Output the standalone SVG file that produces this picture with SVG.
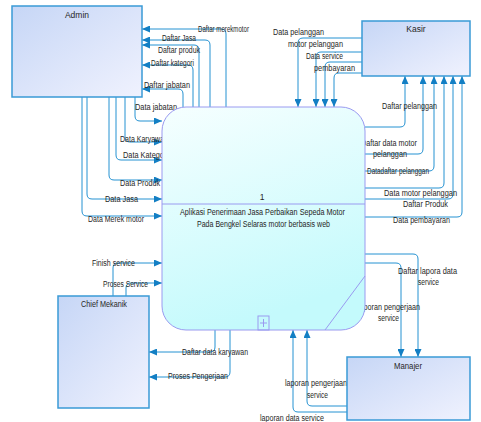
<svg xmlns="http://www.w3.org/2000/svg" width="481" height="422" viewBox="0 0 481 422">
<defs>
<linearGradient id="gBox" x1="0" y1="0" x2="1" y2="1">
<stop offset="0" stop-color="#c6d6f6"/>
<stop offset="1" stop-color="#f0f2fe"/>
</linearGradient>
<linearGradient id="gProc" x1="0" y1="0" x2="0.3" y2="1">
<stop offset="0" stop-color="#f6ffff"/>
<stop offset="1" stop-color="#c4fafc"/>
</linearGradient>
<marker id="arr" markerUnits="userSpaceOnUse" markerWidth="8" markerHeight="7" refX="8" refY="3.5" orient="auto">
<path d="M0,0 L8,3.5 L0,7 z" fill="#137fc4"/>
</marker>
<style>
.c{fill:none;stroke:#2592d2;stroke-width:1;marker-end:url(#arr)}
.t{font-family:"Liberation Sans",Arial,sans-serif;font-size:8.5px;fill:#262626}
.m{text-anchor:middle}
.box{fill:url(#gBox);stroke:#3a9ad6;stroke-width:1.5}
.pl{fill:none;stroke:#9a9af0;stroke-width:1}
</style>
</defs>
<rect width="481" height="422" fill="#ffffff"/>
<g id="connectors">
<path class="c" d="M226,107 V34 Q226,29 221,29 H142"/>
<path class="c" d="M210,107 V45 Q210,40 205,40 H142"/>
<path class="c" d="M199,107 V50 Q199,45 194,45 H142"/>
<path class="c" d="M193,107 V70 Q193,65 188,65 H142"/>
<path class="c" d="M183,107 V94 Q183,89 178,89 H142"/>
<path class="c" d="M135,97 V116 Q135,121 140,121 H162"/>
<path class="c" d="M125,97 V137 Q125,142 130,142 H162"/>
<path class="c" d="M116,97 V155 Q116,160 121,160 H162"/>
<path class="c" d="M109,97 V175 Q109,180 114,180 H162"/>
<path class="c" d="M87,97 V194 Q87,199 92,199 H162"/>
<path class="c" d="M82,97 V211 Q82,216 87,216 H162"/>
<path class="c" d="M362,38 H303 Q298,38 298,43 V107"/>
<path class="c" d="M362,52 H321 Q316,52 316,57 V107"/>
<path class="c" d="M362,62 H330 Q325,62 325,67 V107"/>
<path class="c" d="M362,73 H339 Q334,73 334,78 V107"/>
<path class="c" d="M365,127 H400 Q405,127 405,122 V76"/>
<path class="c" d="M365,154 H418 Q423,154 423,149 V76"/>
<path class="c" d="M365,171 H429 Q434,171 434,166 V76"/>
<path class="c" d="M365,188 H439 Q444,188 444,183 V76"/>
<path class="c" d="M365,199 H448 Q453,199 453,194 V76"/>
<path class="c" d="M365,217 H457 Q462,217 462,212 V76"/>
<path class="c" d="M113,296 V268 Q113,263 118,263 H162"/>
<path class="c" d="M126,296 V288 Q126,283 131,283 H162"/>
<path class="c" d="M215,330 V347 Q215,352 210,352 H149"/>
<path class="c" d="M230,330 V372 Q230,377 225,377 H149"/>
<path class="c" d="M365,254 H413 Q418,254 418,259 V357"/>
<path class="c" d="M365,263 H396 Q401,263 401,268 V357"/>
<path class="c" d="M347,406 H312 Q307,406 307,401 V330"/>
<path class="c" d="M347,412 H298 Q293,412 293,407 V330"/>
<g class="t">
<text x="198" y="32" textLength="51" lengthAdjust="spacingAndGlyphs">Daftar merekmotor</text>
<text x="162" y="41" textLength="34" lengthAdjust="spacingAndGlyphs">Daftar Jasa</text>
<text x="158" y="53" textLength="42" lengthAdjust="spacingAndGlyphs">Daftar produk</text>
<text x="151" y="66" textLength="43" lengthAdjust="spacingAndGlyphs">Daftar kategori</text>
<text x="144" y="88" textLength="46" lengthAdjust="spacingAndGlyphs">Daftar jabatan</text>
<text x="135" y="110" textLength="42" lengthAdjust="spacingAndGlyphs">Data jabatan</text>
<text x="120" y="142" textLength="48" lengthAdjust="spacingAndGlyphs">Data Karyawan</text>
<text x="123" y="158" textLength="45" lengthAdjust="spacingAndGlyphs">Data Kategori</text>
<text x="120" y="186" textLength="40" lengthAdjust="spacingAndGlyphs">Data Produk</text>
<text x="105" y="202" textLength="33" lengthAdjust="spacingAndGlyphs">Data Jasa</text>
<text x="88" y="222" textLength="56" lengthAdjust="spacingAndGlyphs">Data Merek motor</text>
<text x="273" y="35" textLength="51" lengthAdjust="spacingAndGlyphs">Data pelanggan</text>
<text x="288" y="47" textLength="55" lengthAdjust="spacingAndGlyphs">motor pelanggan</text>
<text x="306" y="59" textLength="37" lengthAdjust="spacingAndGlyphs">Data service</text>
<text x="314" y="71" textLength="41" lengthAdjust="spacingAndGlyphs">pembayaran</text>
<text x="382" y="109" textLength="55" lengthAdjust="spacingAndGlyphs">Daftar pelanggan</text>
<text x="361" y="146" textLength="56" lengthAdjust="spacingAndGlyphs">Daftar data motor</text>
<text x="373" y="157" textLength="34" lengthAdjust="spacingAndGlyphs">pelanggan</text>
<text x="367" y="174" textLength="62" lengthAdjust="spacingAndGlyphs">Datadaftar pelanggan</text>
<text x="384" y="196" textLength="73" lengthAdjust="spacingAndGlyphs">Data motor pelanggan</text>
<text x="403" y="207" textLength="45" lengthAdjust="spacingAndGlyphs">Daftar Produk</text>
<text x="393" y="223" textLength="57" lengthAdjust="spacingAndGlyphs">Data pembayaran</text>
<text x="92" y="266" textLength="43" lengthAdjust="spacingAndGlyphs">Finish service</text>
<text x="103" y="287" textLength="45" lengthAdjust="spacingAndGlyphs">Proses Service</text>
<text x="182" y="355" textLength="66" lengthAdjust="spacingAndGlyphs">Daftar data karyawan</text>
<text x="168" y="379" textLength="60" lengthAdjust="spacingAndGlyphs">Proses Pengerjaan</text>
<text x="398" y="274" textLength="59" lengthAdjust="spacingAndGlyphs">Daftar lapora data</text>
<text x="418" y="285" textLength="21" lengthAdjust="spacingAndGlyphs">service</text>
<text x="358" y="310" textLength="62" lengthAdjust="spacingAndGlyphs">laporan pengerjaan</text>
<text x="378" y="321" textLength="21" lengthAdjust="spacingAndGlyphs">service</text>
<text x="285" y="386" textLength="62" lengthAdjust="spacingAndGlyphs">laporan pengerjaan</text>
<text x="307" y="398" textLength="21" lengthAdjust="spacingAndGlyphs">service</text>
<text x="260" y="421" textLength="64" lengthAdjust="spacingAndGlyphs">laporan data service</text>
</g>
</g>
<g id="admin">
<rect class="box" x="12" y="6" width="130" height="91"/>
<text class="t m" x="77" y="18">Admin</text>
</g>
<g id="kasir">
<rect class="box" x="362" y="21" width="108" height="55"/>
<text class="t m" x="416" y="32">Kasir</text>
</g>
<g id="chief-mekanik">
<rect class="box" x="58" y="296" width="91" height="112"/>
<text class="t m" x="104" y="307" textLength="46" lengthAdjust="spacingAndGlyphs">Chief Mekanik</text>
</g>
<g id="manajer">
<rect class="box" x="347" y="357" width="123" height="63"/>
<text class="t m" x="408" y="369" textLength="28" lengthAdjust="spacingAndGlyphs">Manajer</text>
</g>
<g id="process">
<rect x="162" y="107" width="203" height="223" rx="24" ry="24" fill="url(#gProc)" stroke="#9a9af0" stroke-width="1"/>
<line class="pl" x1="162" y1="204" x2="365" y2="204"/>
<line class="pl" x1="325" y1="330" x2="365" y2="276"/>
<rect class="pl" x="258" y="316" width="11" height="14"/>
<path class="pl" d="M263.5,319 V327 M260,323 H267"/>
<text class="t m" x="262" y="200">1</text>
<text class="t" x="180" y="215" textLength="165" lengthAdjust="spacingAndGlyphs">Aplikasi Penerimaan Jasa Perbaikan Sepeda Motor</text>
<text class="t" x="197" y="227" textLength="133" lengthAdjust="spacingAndGlyphs">Pada Bengkel Selaras motor berbasis web</text>
</g>
</svg>
